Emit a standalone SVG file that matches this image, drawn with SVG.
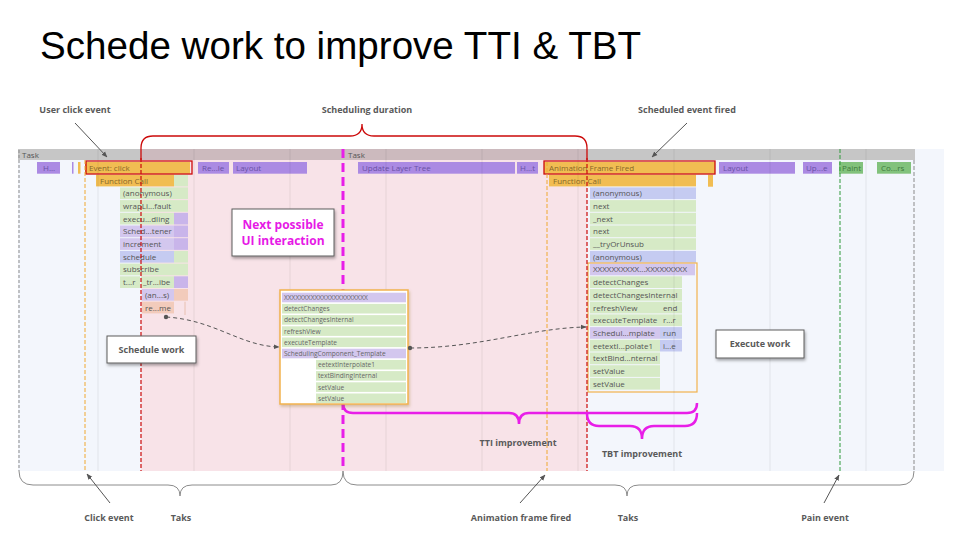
<svg xmlns="http://www.w3.org/2000/svg" width="960" height="540" viewBox="0 0 960 540">
<defs>
<style>
.t{font-family:"Open Sans","Noto Sans","DejaVu Sans",sans-serif;font-size:8px;fill:#555}
.to{font-family:"Open Sans","Noto Sans",sans-serif;font-size:8px;fill:#86682a}
.tp{font-family:"Open Sans","Noto Sans",sans-serif;font-size:8px;fill:#6a51a6}
.tg{font-family:"Open Sans","Noto Sans",sans-serif;font-size:8px;fill:#3f7a3c}
.ts{font-family:"Open Sans","Noto Sans",sans-serif;font-size:6.6px;fill:#666}
.lb{font-family:"Open Sans","Noto Sans",sans-serif;font-size:9px;font-weight:bold;fill:#5a5a5a;text-anchor:middle}
.or{fill:#f1bd52}
.pu{fill:#ab8ae3}
.gr{fill:#82c27c}
.pg{fill:#d6eac6}
.pp{fill:#d3c7ee}
.pd{fill:#c9b5ea}
.pb{fill:#c5cbf1}
.pe{fill:#f2cbbb}
.grid{stroke:#000;stroke-opacity:0.09;stroke-width:0.8}
.box{fill:#fff;stroke:#5c5c5c;stroke-width:1}
.ann{stroke:#555;stroke-width:1;fill:none}
.brace{stroke:#8c8c8c;stroke-width:1;fill:none}
.red{stroke:#cc0a0a;stroke-width:1.3;fill:none}
.mag{stroke:#e81ee8;stroke-width:2.5;fill:none}
</style>
<filter id="sh" x="-20%" y="-30%" width="140%" height="170%"><feDropShadow dx="1" dy="2" stdDeviation="1.5" flood-color="#000" flood-opacity="0.35"/></filter>
<filter id="sh2" x="-10%" y="-10%" width="120%" height="125%"><feDropShadow dx="1" dy="2" stdDeviation="1.5" flood-color="#806000" flood-opacity="0.3"/></filter>
<marker id="ah" viewBox="0 0 10 10" refX="9" refY="5" markerWidth="6" markerHeight="6" orient="auto"><path d="M0,1 L10,5 L0,9 z" fill="#555"/></marker>
</defs>
<rect width="960" height="540" fill="#fff"/>
<text x="40" y="59" font-family="Liberation Sans, Arial, sans-serif" font-size="38.6" fill="#000">Schede work to improve TTI &amp; TBT</text>

<g id="timeline">
<rect x="18" y="149" width="926" height="322" fill="#f3f6fc"/>
<rect x="141" y="149" width="446" height="322" fill="#f8e3e8"/>
<rect x="18" y="149" width="897" height="11" fill="#c6c6c6"/>
<rect x="141" y="149" width="446" height="11" fill="#ccbabe"/>
<text class="t" x="22" y="157.5">Task</text>
<text class="t" x="348" y="157.5">Task</text>
</g>

<g id="row-top">
<rect class="pu" x="37" y="162" width="23" height="11.7"/><text class="tp" x="43" y="170.8">H...</text>
<rect class="pu" x="72" y="162" width="1.5" height="11.7"/>
<rect class="or" x="78" y="162" width="2.5" height="11.7"/>
<rect class="or" x="85" y="162" width="105" height="11.7"/><text class="to" x="89" y="170.8">Event: click</text>
<rect class="pu" x="198" y="162" width="31" height="11.7"/><text class="tp" x="202" y="170.8">Re...le</text>
<rect class="pu" x="233" y="162" width="74" height="11.7"/><text class="tp" x="236" y="170.8">Layout</text>
<rect class="pu" x="358" y="162" width="157" height="11.7"/><text class="tp" x="362" y="170.8">Update Layer Tree</text>
<rect class="pu" x="517" y="162" width="21" height="11.7"/><text class="tp" x="520" y="170.8">H...t</text>
<rect class="or" x="544" y="162" width="171" height="11.7"/><text class="to" x="549" y="170.8">Animation Frame Fired</text>
<rect class="pu" x="719" y="162" width="76" height="11.7"/><text class="tp" x="723" y="170.8">Layout</text>
<rect class="pu" x="803" y="162" width="29" height="11.7"/><text class="tp" x="806" y="170.8">Up...e</text>
<rect class="gr" x="839" y="162" width="24" height="11.7"/><text class="tg" x="842" y="170.8">Paint</text>
<rect class="gr" x="877" y="162" width="34" height="11.7"/><text class="tg" x="881" y="170.8">Co...rs</text>
<rect class="or" x="96" y="174.7" width="78" height="11.7"/><text class="to" x="100" y="183.5">Function Call</text>
<rect class="pg" x="174" y="174.7" width="14" height="11.7"/>
<rect class="or" x="549" y="174.7" width="147" height="11.7"/><text class="to" x="553" y="183.5">Function Call</text>
<rect class="or" x="708" y="174.7" width="5" height="12"/>
</g>

<g id="stack-left">
<rect class="pg" x="120" y="187.4" width="54" height="11.7"/><rect class="pg" x="174" y="187.4" width="14" height="11.7"/><text class="t" x="123" y="196.2">(anonymous)</text>
<rect class="pg" x="120" y="200.1" width="54" height="11.7"/><rect class="pg" x="174" y="200.1" width="14" height="11.7"/><text class="t" x="123" y="208.9">wrapLi...fault</text>
<rect class="pg" x="120" y="212.8" width="54" height="11.7"/><rect class="pd" x="174" y="212.8" width="14" height="11.7"/><text class="t" x="123" y="221.6">execu...dling</text>
<rect class="pp" x="120" y="225.5" width="54" height="11.7"/><rect class="pd" x="174" y="225.5" width="14" height="11.7"/><text class="t" x="123" y="234.3">Sched...tener</text>
<rect class="pp" x="120" y="238.2" width="54" height="11.7"/><rect class="pd" x="174" y="238.2" width="14" height="11.7"/><text class="t" x="123" y="247">increment</text>
<rect class="pb" x="120" y="250.9" width="54" height="11.7"/><rect class="pg" x="174" y="250.9" width="14" height="11.7"/><text class="t" x="123" y="259.7">schedule</text>
<rect class="pg" x="120" y="263.6" width="54" height="11.7"/><rect class="pg" x="174" y="263.6" width="14" height="11.7"/><text class="t" x="123" y="272.4">subscribe</text>
<rect class="pg" x="120" y="276.3" width="20" height="11.7"/><rect class="pg" x="141" y="276.3" width="33" height="11.7"/><rect class="pd" x="174" y="276.3" width="14" height="11.7"/><text class="t" x="123" y="285.1">t...r</text><text class="t" x="143" y="285.1">_tr...ibe</text>
<rect class="pp" x="142" y="289" width="32" height="11.7"/><rect class="pe" x="174" y="289" width="14" height="11.7"/><text class="t" x="145" y="297.8">(an...s)</text>
<rect class="pe" x="142" y="301.7" width="32" height="11.7"/><text class="t" x="145" y="310.5">re...me</text>
<line x1="185" y1="301.7" x2="185" y2="315" stroke="#e8c0b0" stroke-width="1"/>
</g>

<g id="stack-right">
<rect class="pb" x="590" y="187.4" width="106" height="11.7"/><text class="t" x="593" y="196.2">(anonymous)</text>
<rect class="pg" x="590" y="200.1" width="106" height="11.7"/><text class="t" x="593" y="208.9">next</text>
<rect class="pg" x="590" y="212.8" width="106" height="11.7"/><text class="t" x="593" y="221.6">_next</text>
<rect class="pg" x="590" y="225.5" width="106" height="11.7"/><text class="t" x="593" y="234.3">next</text>
<rect class="pg" x="590" y="238.2" width="106" height="11.7"/><text class="t" x="593" y="247">__tryOrUnsub</text>
<rect class="pb" x="590" y="250.9" width="106" height="11.7"/><text class="t" x="593" y="259.7">(anonymous)</text>
<rect class="pp" x="590" y="263.6" width="105" height="11.7"/><text class="t" x="593" y="272.4">XXXXXXXXXX...XXXXXXXXX</text>
<rect class="pg" x="590" y="276.3" width="92" height="11.7"/><text class="t" x="593" y="285.1">detectChanges</text>
<rect class="pg" x="590" y="289" width="92" height="11.7"/><text class="t" x="593" y="297.8">detectChangesInternal</text>
<rect class="pg" x="590" y="301.7" width="70" height="11.7"/><rect class="pg" x="660" y="301.7" width="22" height="11.7"/><text class="t" x="593" y="310.5">refreshView</text><text class="t" x="663" y="310.5">end</text>
<rect class="pg" x="590" y="314.4" width="70" height="11.7"/><rect class="pg" x="660" y="314.4" width="22" height="11.7"/><text class="t" x="593" y="323.2">executeTemplate</text><text class="t" x="663" y="323.2">r...r</text>
<rect class="pp" x="590" y="327.1" width="70" height="11.7"/><rect class="pb" x="660" y="327.1" width="22" height="11.7"/><text class="t" x="593" y="335.9">Schedul...mplate</text><text class="t" x="663" y="335.9">run</text>
<rect class="pg" x="590" y="339.8" width="70" height="11.7"/><rect class="pb" x="660" y="339.8" width="22" height="11.7"/><text class="t" x="593" y="348.6">eetextI...polate1</text><text class="t" x="663" y="348.6">i...e</text>
<rect class="pg" x="590" y="352.5" width="70" height="11.7"/><text class="t" x="593" y="361.3">textBind...nternal</text>
<rect class="pg" x="590" y="365.2" width="70" height="11.7"/><text class="t" x="593" y="374">setValue</text>
<rect class="pg" x="590" y="377.9" width="70" height="11.7"/><text class="t" x="593" y="386.7">setValue</text>
<rect x="588" y="263" width="109" height="129" fill="none" stroke="#f2b24d" stroke-width="1.2"/>
</g>

<g id="grid">
<line class="grid" x1="98" y1="149" x2="98" y2="471"/>
<line class="grid" x1="194" y1="149" x2="194" y2="471"/>
<line class="grid" x1="290" y1="149" x2="290" y2="471"/>
<line class="grid" x1="386" y1="149" x2="386" y2="471"/>
<line class="grid" x1="482" y1="149" x2="482" y2="471"/>
<line class="grid" x1="578" y1="149" x2="578" y2="471"/>
<line class="grid" x1="674" y1="149" x2="674" y2="471"/>
<line class="grid" x1="770" y1="149" x2="770" y2="471"/>
<line class="grid" x1="866" y1="149" x2="866" y2="471"/>
</g>

<g id="markers">
<rect x="86" y="161" width="106" height="13" fill="none" stroke="#cc0a0a" stroke-width="1.3"/>
<rect x="544" y="161" width="171" height="13" fill="none" stroke="#cc0a0a" stroke-width="1.3"/>
<line x1="19" y1="150" x2="19" y2="471" stroke="#8a8a8a" stroke-width="1" stroke-dasharray="3 2"/>
<line x1="85" y1="160" x2="85" y2="471" stroke="#f0a830" stroke-width="1" stroke-dasharray="4 2"/>
<line x1="141" y1="158" x2="141" y2="471" stroke="#cc0a0a" stroke-width="1.2" stroke-dasharray="4 2"/>
<line x1="547" y1="162" x2="547" y2="471" stroke="#f0a830" stroke-width="1" stroke-dasharray="4 2"/>
<line x1="587" y1="158" x2="587" y2="471" stroke="#cc0a0a" stroke-width="1.2" stroke-dasharray="4 2"/>
<line x1="840" y1="149" x2="840" y2="471" stroke="#2e9a3a" stroke-width="1" stroke-dasharray="4 2"/>
<line x1="914" y1="160" x2="914" y2="471" stroke="#8a8a8a" stroke-width="1" stroke-dasharray="4 2"/>
<line x1="343" y1="149" x2="343" y2="471" stroke="#e81ee8" stroke-width="3" stroke-dasharray="9 5"/>
</g>

<g id="connectors">
<path class="red" d="M141,160 V148 Q141,136 153,136 H350 Q362,136 362,124 Q362,136 374,136 H575 Q587,136 587,148 V160"/>
<path class="brace" d="M19,471 Q19,485 33,485 H168 Q180,485 180,496 Q180,485 192,485 H331 Q343,485 343,471"/>
<path class="brace" d="M343,471 Q343,485 357,485 H615 Q627,485 627,496 Q627,485 639,485 H900 Q914,485 914,471"/>
<path class="mag" d="M343,403 Q343,413 353,413 H509 Q519,413 519,424 Q519,413 529,413 H687 Q697,413 697,403"/>
<path class="mag" d="M587,413 Q587,426 599,426 H630 Q642,426 642,439 Q642,426 654,426 H685 Q697,426 697,413"/>
<line class="ann" x1="75" y1="123" x2="107" y2="157" marker-end="url(#ah)"/>
<line class="ann" x1="687" y1="123" x2="652" y2="157" marker-end="url(#ah)"/>
<line class="ann" x1="110" y1="503" x2="87" y2="474" marker-end="url(#ah)"/>
<line class="ann" x1="520" y1="503" x2="545" y2="475" marker-end="url(#ah)"/>
<line class="ann" x1="824" y1="503" x2="839" y2="475" marker-end="url(#ah)"/>
<circle cx="166" cy="317" r="2.2" fill="#555"/>
<path class="ann" d="M166,317 C215,320 240,346 279,347" stroke-dasharray="4 3" marker-end="url(#ah)"/>
</g>

<g id="popup">
<rect x="280" y="290" width="128" height="114" fill="#fff" stroke="#f2b24d" stroke-width="1.5" filter="url(#sh2)"/>
<rect class="pp" x="282" y="292.7" width="124" height="9.6"/><text class="ts" x="284" y="300">XXXXXXXXXXXXXXXXXXXXXX</text>
<rect class="pg" x="282" y="303.9" width="124" height="9.6"/><text class="ts" x="284" y="311.2">detectChanges</text>
<rect class="pg" x="282" y="315.1" width="124" height="9.6"/><text class="ts" x="284" y="322.4">detectChangesInternal</text>
<rect class="pg" x="282" y="326.3" width="124" height="9.6"/><text class="ts" x="284" y="333.6">refreshView</text>
<rect class="pg" x="282" y="337.5" width="124" height="9.6"/><text class="ts" x="284" y="344.8">executeTemplate</text>
<rect class="pp" x="282" y="348.7" width="124" height="9.6"/><text class="ts" x="284" y="356">SchedulingComponent_Template</text>
<rect class="pg" x="316" y="359.9" width="90" height="9.6"/><text class="ts" x="318" y="367.2">eetextInterpolate1</text>
<rect class="pg" x="316" y="371.1" width="90" height="9.6"/><text class="ts" x="318" y="378.4">textBindingInternal</text>
<rect class="pg" x="316" y="382.3" width="90" height="9.6"/><text class="ts" x="318" y="389.6">setValue</text>
<rect class="pg" x="316" y="393.5" width="90" height="9.6"/><text class="ts" x="318" y="400.8">setValue</text>
</g>
<g id="exec-connector">
<circle cx="410" cy="348" r="2.2" fill="#555"/>
<path class="ann" d="M410,348 C480,348 530,328 586,327" stroke-dasharray="4 3" marker-end="url(#ah)"/>
</g>

<g id="next-ui">
<rect class="box" x="232" y="209" width="102" height="47" filter="url(#sh)"/>
<text x="283" y="229" font-family="Open Sans, Noto Sans, sans-serif" font-size="12" font-weight="bold" fill="#e619e6" text-anchor="middle">Next possible</text>
<text x="283" y="245" font-family="Open Sans, Noto Sans, sans-serif" font-size="12" font-weight="bold" fill="#e619e6" text-anchor="middle">UI interaction</text>
</g>
<g id="schedule-work">
<rect class="box" x="107" y="336" width="89" height="27" filter="url(#sh)"/>
<text class="lb" x="151.5" y="352.5">Schedule work</text>
</g>
<g id="execute-work">
<rect class="box" x="716" y="330" width="88" height="28" filter="url(#sh)"/>
<text class="lb" x="760" y="347">Execute work</text>
</g>

<g id="labels">
<text class="lb" x="75" y="113">User click event</text>
<text class="lb" x="367" y="113">Scheduling duration</text>
<text class="lb" x="687" y="113">Scheduled event fired</text>
<text class="lb" x="518" y="446">TTI improvement</text>
<text class="lb" x="642" y="457">TBT improvement</text>
<text class="lb" x="109" y="521">Click event</text>
<text class="lb" x="181" y="521">Taks</text>
<text class="lb" x="521" y="521">Animation frame fired</text>
<text class="lb" x="628" y="521">Taks</text>
<text class="lb" x="825" y="521">Pain event</text>
</g>
</svg>
